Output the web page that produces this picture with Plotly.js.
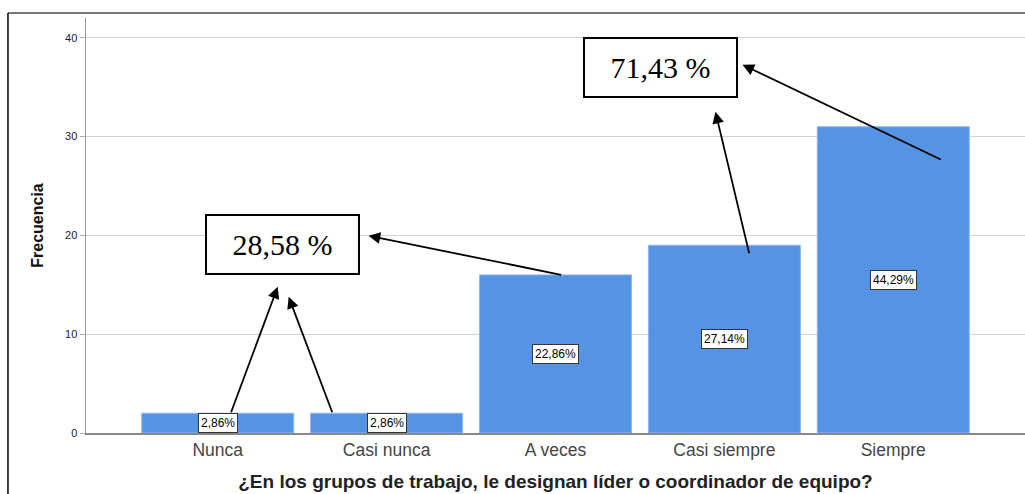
<!DOCTYPE html>
<html>
<head>
<meta charset="utf-8">
<script src="https://cdn.plot.ly/plotly-3.0.1.min.js"></script>
<style>html,body{margin:0;padding:0;background:#fff;}#chart{width:1025px;height:494px;}</style>
</head>
<body>
<div id="chart"></div>
<script>
const categories = ["Nunca", "Casi nunca", "A veces", "Casi siempre", "Siempre"];
const frequencies = [2, 2, 16, 19, 31];
const yTicks = [0, 10, 20, 30, 40];
const xTitle = "¿En los grupos de trabajo, le designan líder o coordinador de equipo?";
const yTitle = "Frecuencia";
const groupLow = [0, 1, 2];    // Nunca + Casi nunca + A veces
const groupHigh = [3, 4];      // Casi siempre + Siempre

const total = frequencies.reduce((a, b) => a + b, 0);
const pct = frequencies.map(v => Math.round(v / total * 10000) / 100);
const fmt = v => v.toFixed(2).replace('.', ',');
const sumPct = idx => idx.reduce((a, i) => a + pct[i], 0);

const annotations = [];
// value labels in the middle of each bar
categories.forEach((c, i) => {
  annotations.push({
    x: i, y: frequencies[i] / 2, xref: 'x', yref: 'y',
    text: fmt(pct[i]) + '%', showarrow: false,
    font: {family: 'Arial, Liberation Sans', size: 12, color: '#000'},
    bgcolor: '#fff', bordercolor: '#333', borderwidth: 1, borderpad: 2
  });
});
// summary boxes
const boxStyle = {
  xref: 'x', yref: 'y', showarrow: false,
  font: {family: 'Liberation Serif, Times New Roman, serif', size: 30, color: '#000'},
  bgcolor: '#fff', bordercolor: '#000', borderwidth: 2, borderpad: 0,
  width: 151, height: 57
};
annotations.push(Object.assign({}, boxStyle, {x: 0.385, y: 19.05, text: fmt(sumPct(groupLow)) + ' %'}));
annotations.push(Object.assign({}, boxStyle, {x: 2.62, y: 37.03, text: fmt(sumPct(groupHigh)) + ' %'}));
// arrows: [tipX, tipY, tailX, tailY]
const arrows = [
  [0.355, 14.79, 0.077, frequencies[0]],
  [0.42, 13.78, 0.68, frequencies[1]],
  [0.893, 19.96, 2.036, frequencies[2]],
  [2.947, 32.52, 3.148, 18.1],
  [3.107, 37.28, 4.284, 27.66]
];
arrows.forEach(a => {
  annotations.push({
    x: a[0], y: a[1], ax: a[2], ay: a[3], xref: 'x', yref: 'y', axref: 'x', ayref: 'y',
    text: ' ', font: {size: 1}, borderpad: 0,
    showarrow: true, arrowhead: 2, arrowsize: 1.3, arrowwidth: 1.8, arrowcolor: '#000',
    standoff: 0, startstandoff: 0
  });
});

const shapes = [
  {type: 'line', xref: 'paper', yref: 'paper', x0: -0.0831, x1: 1.01, y0: 1.012, y1: 1.012,
   line: {color: '#777', width: 2}},
  {type: 'line', xref: 'paper', yref: 'paper', x0: -0.0831, x1: -0.0831, y0: 1.012, y1: -0.2,
   line: {color: '#000', width: 1.5}}
];

const trace = {
  type: 'bar', x: categories, y: frequencies, width: 0.9,
  marker: {color: '#5594e3', line: {color: '#8cb8f0', width: 1}},
  hoverinfo: 'skip'
};

const layout = {
  width: 1025, height: 494,
  margin: {l: 86, r: 0, t: 18, b: 61},
  paper_bgcolor: '#fff', plot_bgcolor: '#fff',
  showlegend: false,
  font: {family: 'Arial, Liberation Sans, sans-serif'},
  xaxis: {
    type: 'category', range: [-0.78, 4.78], fixedrange: true,
    showline: true, linecolor: '#888', linewidth: 1.5,
    ticks: '', showgrid: false, zeroline: false,
    tickfont: {size: 17.5, color: '#444'},
    title: {text: xTitle, font: {size: 19, color: '#222', weight: 'bold'}, standoff: 16}
  },
  yaxis: {
    range: [0, 42], tickvals: yTicks, ticktext: yTicks.map(String), fixedrange: true,
    showline: true, linecolor: '#999', linewidth: 1.5,
    ticks: 'outside', ticklen: 5, tickcolor: '#aaa',
    gridcolor: '#d3d3d3', gridwidth: 1, zeroline: false,
    tickfont: {size: 11, color: '#222'},
    title: {text: yTitle, font: {size: 16, color: '#111', weight: 'bold'}, standoff: 17}
  },
  annotations: annotations,
  shapes: shapes
};

Plotly.newPlot('chart', [trace], layout, {displayModeBar: false, staticPlot: true});
</script>
</body>
</html>
